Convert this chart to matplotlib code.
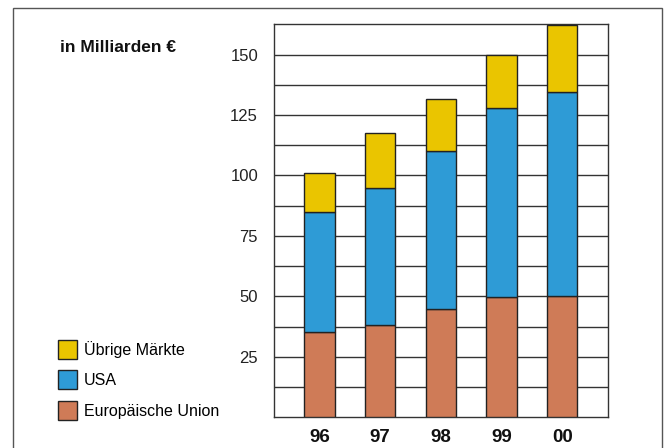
import matplotlib.pyplot as plt
from matplotlib.patches import Patch, Rectangle
import numpy as np

plt.rcParams['font.family'] = ['Liberation Sans', 'DejaVu Sans']

# Data (in Milliarden €)
years = ['96', '97', '98', '99', '00']
eu = [35.1, 38.3, 44.8, 49.8, 50.3]
usa = [49.6, 56.6, 65.4, 77.9, 84.4]
uebrige = [16.5, 22.5, 21.5, 22.2, 27.5]

col_eu = '#CF7B57'
col_usa = '#2E9BD6'
col_ueb = '#EAC500'

W, H = 666, 448
fig = plt.figure(figsize=(W / 100, H / 100), dpi=100)
ax = fig.add_axes([274 / W, (H - 417.3) / H, (607.7 - 274) / W, (417.3 - 24.3) / H])

x = np.arange(len(years))
eu = np.array(eu)
usa = np.array(usa)
uebrige = np.array(uebrige)

kw = dict(width=0.5, edgecolor='#222222', linewidth=1, zorder=3)
ax.bar(x, eu, color=col_eu, **kw)
ax.bar(x, usa, bottom=eu, color=col_usa, **kw)
ax.bar(x, uebrige, bottom=eu + usa, color=col_ueb, **kw)

ax.set_xlim(-0.75, len(years) - 0.25)
ax.set_ylim(0, 162.5)

# horizontal grid every 12.5
for g in np.arange(12.5, 162.5, 12.5):
    ax.axhline(g, color='#333333', linewidth=1, zorder=1)

ax.set_yticks([25, 50, 75, 100, 125, 150])
ax.set_yticklabels(['25', '50', '75', '100', '125', '150'], fontsize=12, color='#222222')
ax.set_xticks(x)
ax.set_xticklabels(years, fontsize=13.5, fontweight='bold', color='#111111')
ax.tick_params(axis='both', length=0)
ax.tick_params(axis='y', pad=11.5)
ax.tick_params(axis='x', pad=8.5)
for s in ax.spines.values():
    s.set_color('#333333')
    s.set_linewidth(1)

fig.text(60 / W, 1 - 47 / H, 'in Milliarden €', fontsize=12.5, fontweight='bold',
         ha='left', va='center', color='#111111')

handles = [Patch(facecolor=col_ueb, edgecolor='#222222', label='Übrige Märkte'),
           Patch(facecolor=col_usa, edgecolor='#222222', label='USA'),
           Patch(facecolor=col_eu, edgecolor='#222222', label='Europäische Union')]
fig.legend(handles=handles, loc='upper left', bbox_to_anchor=(58 / W, 1 - 340 / H),
           frameon=False, fontsize=11.5, handlelength=1.2, handleheight=1.45,
           handletextpad=0.4, labelspacing=0.72, borderaxespad=0, borderpad=0)

# outer frame
fig.patches.append(Rectangle((13 / W, -0.05), (662 - 13) / W, 1 - 8 / H + 0.05,
                             transform=fig.transFigure, fill=False,
                             edgecolor='#555555', linewidth=1))

fig.savefig('out.png', dpi=100)
